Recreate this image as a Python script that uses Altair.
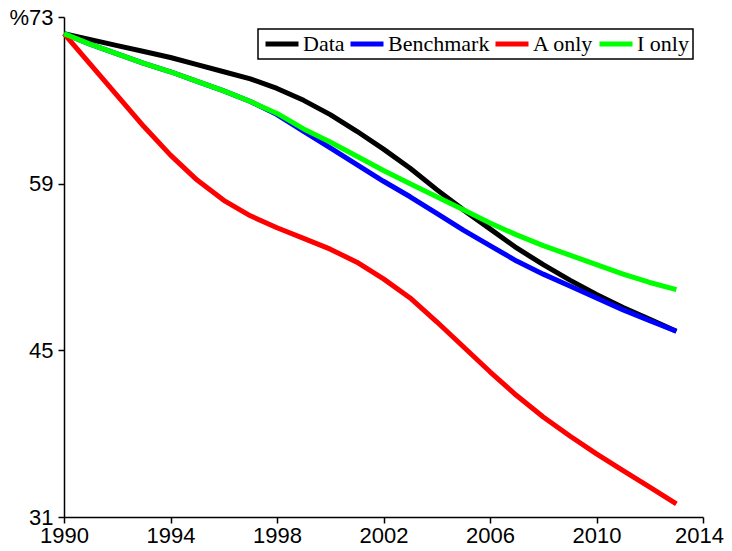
import altair as alt
import pandas as pd

years = list(range(1990, 2014))

data_vals = [71.6, 71.1, 70.6, 70.1, 69.6, 69.0, 68.4, 67.8, 67.0, 66.0, 64.8, 63.4,
             61.9, 60.3, 58.5, 56.8, 55.2, 53.6, 52.2, 50.9, 49.7, 48.6, 47.6, 46.6]
benchmark_vals = [71.6, 70.7, 69.9, 69.1, 68.4, 67.6, 66.8, 65.9, 64.8, 63.4, 62.0, 60.6,
                  59.2, 57.9, 56.5, 55.1, 53.8, 52.5, 51.4, 50.4, 49.4, 48.4, 47.5, 46.6]
a_only_vals = [71.6, 69.0, 66.4, 63.8, 61.4, 59.3, 57.6, 56.3, 55.3, 54.4, 53.5, 52.4,
               51.0, 49.4, 47.4, 45.3, 43.2, 41.2, 39.4, 37.8, 36.3, 34.9, 33.5, 32.1]
i_only_vals = [71.6, 70.7, 69.9, 69.1, 68.4, 67.6, 66.8, 65.9, 64.9, 63.6, 62.5, 61.3,
               60.1, 59.0, 57.9, 56.8, 55.7, 54.7, 53.8, 53.0, 52.2, 51.4, 50.7, 50.1]

series_names = ["Data", "Benchmark", "A only", "I only"]
series_colors = ["#000000", "#0000ff", "#ff0000", "#00ff00"]
x_ticks = [1990, 1994, 1998, 2002, 2006, 2010, 2014]
y_ticks = [31, 45, 59, 73]

rows = []
for name, vals in zip(series_names, [data_vals, benchmark_vals, a_only_vals, i_only_vals]):
    for yr, v in zip(years, vals):
        rows.append({"year": yr, "value": v, "series": name})
df = pd.DataFrame(rows)

color = alt.Color(
    "series:N",
    scale=alt.Scale(domain=series_names, range=series_colors),
    legend=alt.Legend(
        orient="none", legendX=194, legendY=12, direction="horizontal", title=None,
        strokeColor="black", padding=4, symbolType="M-3.75,0H12.75", symbolStrokeWidth=5,
        symbolSize=16, labelFont="Liberation Serif", labelFontSize=22,
        labelColor="black", columnPadding=-5, labelOffset=19, symbolOffset=0,
    ),
)

x = alt.X("year:Q", scale=alt.Scale(domain=[1990, 2014], nice=False, zero=False),
          axis=alt.Axis(values=x_ticks, format="d", title=None, labelPadding=2,
                        labelFlush=False,
                        labelOffset={"condition": {"test": "datum.value == 2014", "value": -4},
                                     "value": 0}))
y = alt.Y("value:Q", scale=alt.Scale(domain=[31, 73], nice=False, zero=False),
          axis=alt.Axis(values=y_ticks, title=None, labelPadding=5, labelFlush=False,
                        labelExpr="datum.value == 73 ? '%73' : datum.label"))

layers = []
for name in series_names:
    layers.append(
        alt.Chart(df).transform_filter(alt.datum.series == name)
        .mark_line(strokeWidth=5, strokeJoin="round")
        .encode(x=x, y=y, color=color)
    )

chart = alt.layer(*layers).properties(
    width=639, height=500,
    autosize=alt.AutoSizeParams(type="none"),
    padding={"left": 56, "top": 9, "right": 21, "bottom": 30},
).configure_view(stroke=None).configure_axis(
    grid=False, domainColor="black", domainWidth=1.5, tickColor="black", tickWidth=1.5,
    tickSize=6, labelFont="Liberation Sans", labelFontSize=22, labelColor="black",
).configure_legend(strokeWidth=1.5)

chart.save("out.html", embed_options={"renderer": "svg", "actions": False})
